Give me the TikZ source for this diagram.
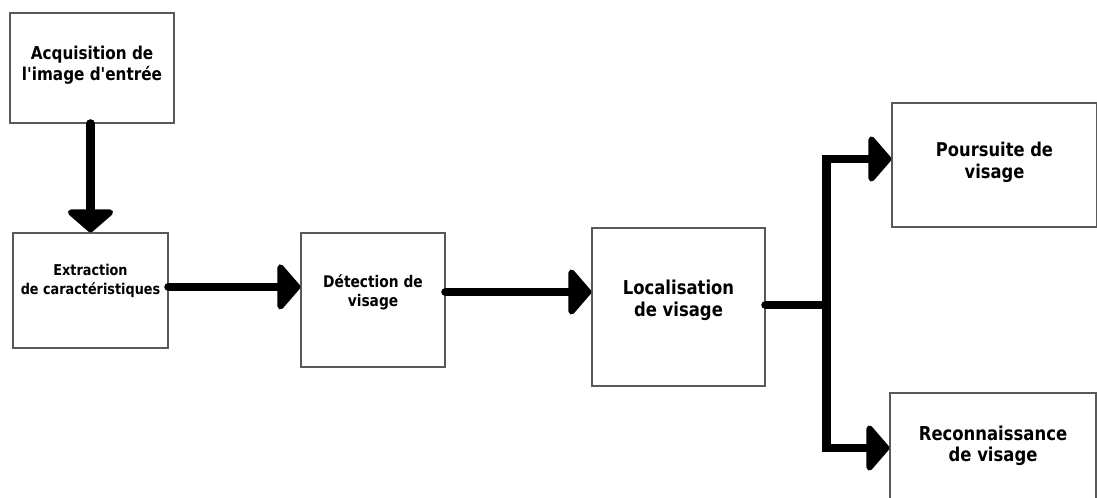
\documentclass[tikz,border=0pt]{standalone}
\usepackage{fontspec}
\setmainfont{DejaVu Sans}[FakeStretch=0.86,Ligatures=TeXOff]
\usetikzlibrary{arrows.meta,positioning}

\begin{document}
\begin{tikzpicture}[x=0.025cm,y=-0.025cm,
    box/.style={draw=black!65,line width=0.8pt,fill=white},
    txt/.style 2 args={align=center,font=\bfseries\fontsize{#1}{#2}\selectfont},
    flow/.style={line width=6.2pt,line cap=round,-{Triangle[length=0.6cm,width=1.35cm,round]}}]
    \useasboundingbox (0,0) rectangle (1097,498);

    \begin{scope}[every node/.style={box}]
        \node [minimum width=4.1cm,minimum height=2.75cm,
               label={[txt={12.6}{15},yshift=0.075cm]center:Acquisition de\\l'image d'entrée}] (acq) at (92,68) {};
        \node [minimum width=3.875cm,minimum height=2.875cm,
               label={[txt={10.6}{13.5},yshift=0.25cm]center:Extraction\\de caractéristiques}] (ext) at (90.5,290.5) {};
        \node [minimum width=3.6cm,minimum height=3.35cm,
               label={[txt={11.4}{13.5},yshift=0.2cm]center:Détection de\\visage}] (det) at (373,300) {};
        \node [minimum width=4.325cm,minimum height=3.95cm,
               label={[txt={13.6}{15.6},yshift=0.175cm]center:Localisation\\de visage}] (loc) at (678.5,307) {};
        \node [minimum width=5.125cm,minimum height=3.1cm,
               label={[txt={13.5}{15.6},yshift=0.075cm]center:Poursuite de\\visage}] (pours) at (994.5,165) {};
        \node [minimum width=5.15cm,minimum height=2.65cm,
               label={[txt={13.6}{15}]center:Reconnaissance\\de visage}] (reco) at (993,446) {};
    \end{scope}

    \coordinate (split) at ([xshift=1.525cm,yshift=0.05cm]loc.east);

    \draw[flow] (acq.south -| ext.north) -- (ext.north);
    \draw[flow] ([yshift=0.09cm]ext.east) -- ([yshift=0.09cm]ext.east -| det.west);
    \draw[flow] ([yshift=0.2cm]det.east) -- ([yshift=0.2cm]det.east -| loc.west);
    \draw[flow] ([yshift=0.05cm]loc.east) -- (split) |- ([yshift=0.15cm]pours.west);
    \draw[flow] (split) |- ([yshift=-0.05cm]reco.west);
\end{tikzpicture}
\end{document}
